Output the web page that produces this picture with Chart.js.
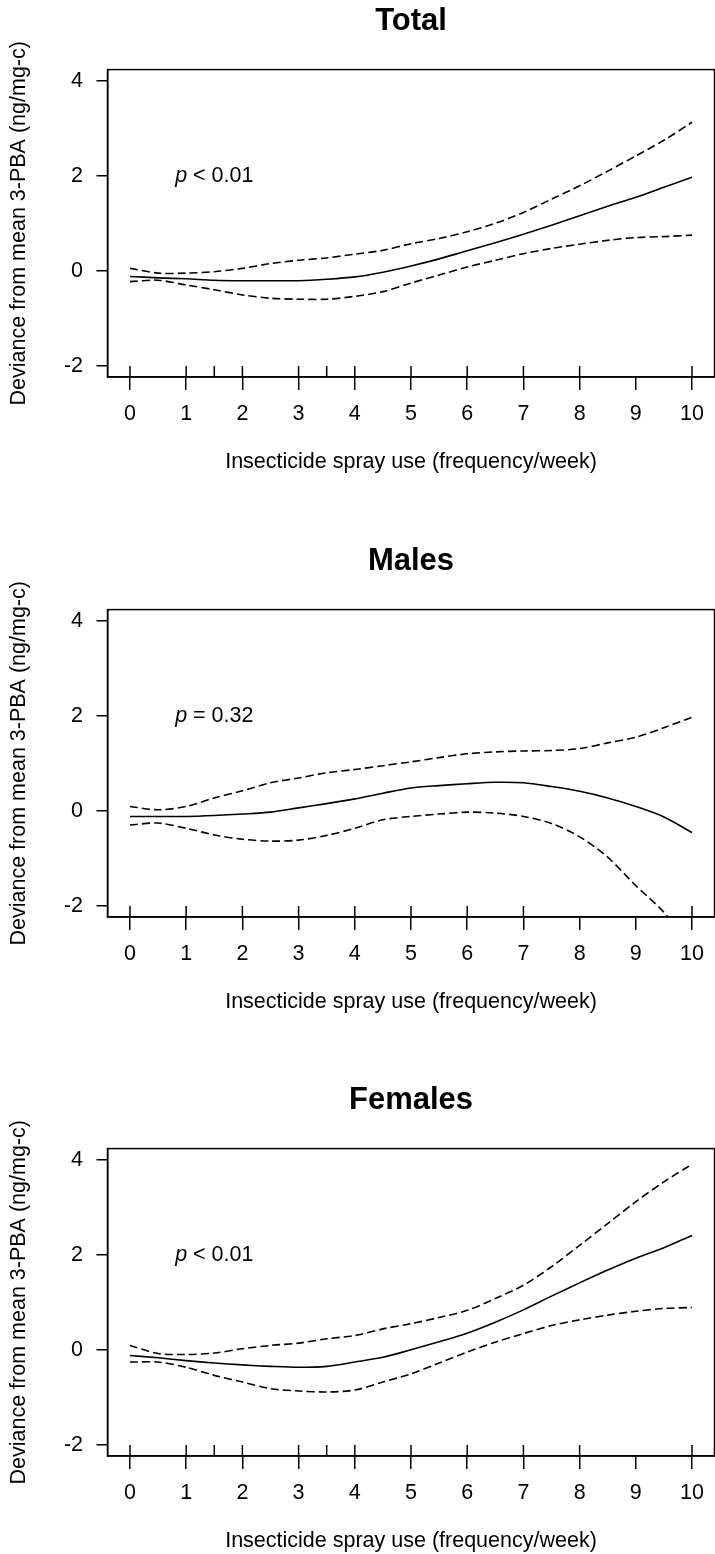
<!DOCTYPE html>
<html>
<head>
<meta charset="utf-8">
<script src="https://cdn.jsdelivr.net/npm/chart.js@4.4.1/dist/chart.umd.min.js"></script>
<style>
  body { margin: 0; background: #fff; width: 715px; height: 1554px; overflow: hidden; position: relative; }
  canvas { position: absolute; left: 0; }
</style>
</head>
<body>
<canvas id="total" width="715" height="540" style="top:0px"></canvas>
<canvas id="males" width="715" height="540" style="top:540px"></canvas>
<canvas id="females" width="715" height="540" style="top:1079px"></canvas>
<script>
// spray frequency (per week) at which the curves were read
var freq = [0, 0.5, 1, 1.5, 2, 2.5, 3, 3.5, 4, 4.5, 5, 5.5, 6, 6.5, 7, 7.5, 8, 8.5, 9, 9.5, 10];

var totalFit = [-0.12, -0.15, -0.17, -0.20, -0.21, -0.21, -0.21, -0.18, -0.13, -0.03, 0.10, 0.25, 0.42, 0.59, 0.77, 0.96, 1.16, 1.36, 1.55, 1.76, 1.97];
var totalUp  = [0.05, -0.05, -0.05, -0.02, 0.05, 0.15, 0.22, 0.27, 0.35, 0.43, 0.57, 0.68, 0.82, 1.00, 1.23, 1.51, 1.79, 2.10, 2.42, 2.75, 3.13];
var totalLo  = [-0.23, -0.20, -0.30, -0.40, -0.51, -0.58, -0.60, -0.60, -0.54, -0.44, -0.26, -0.09, 0.08, 0.22, 0.36, 0.47, 0.56, 0.64, 0.70, 0.72, 0.75];

var malesFit = [-0.12, -0.12, -0.12, -0.10, -0.07, -0.03, 0.06, 0.15, 0.25, 0.37, 0.48, 0.53, 0.57, 0.60, 0.59, 0.51, 0.41, 0.27, 0.09, -0.13, -0.46];
var malesUp  = [0.09, 0.02, 0.09, 0.27, 0.42, 0.59, 0.69, 0.80, 0.87, 0.95, 1.03, 1.12, 1.20, 1.24, 1.26, 1.27, 1.31, 1.43, 1.55, 1.75, 1.97];
var malesLo  = [-0.30, -0.26, -0.37, -0.51, -0.60, -0.64, -0.62, -0.52, -0.37, -0.19, -0.12, -0.07, -0.03, -0.05, -0.12, -0.27, -0.55, -0.98, -1.58, -2.14, -2.90];

var femalesFit = [-0.12, -0.17, -0.23, -0.28, -0.32, -0.35, -0.37, -0.35, -0.26, -0.16, 0.00, 0.17, 0.35, 0.58, 0.84, 1.13, 1.41, 1.68, 1.93, 2.15, 2.41];
var femalesUp  = [0.09, -0.08, -0.10, -0.07, 0.02, 0.09, 0.14, 0.23, 0.30, 0.44, 0.55, 0.68, 0.83, 1.08, 1.36, 1.75, 2.20, 2.66, 3.12, 3.54, 3.91];
var femalesLo  = [-0.26, -0.26, -0.37, -0.54, -0.68, -0.82, -0.87, -0.89, -0.85, -0.68, -0.51, -0.28, -0.05, 0.16, 0.34, 0.51, 0.63, 0.73, 0.81, 0.87, 0.89];

// observed spray frequencies (rug marks)
var totalRug   = [0, 1, 1.5, 2, 3, 3.5, 4, 5, 6, 7, 8, 10];
var malesRug   = [0, 1, 2, 3, 4, 5, 6, 7, 10];
var femalesRug = [0, 1, 1.5, 2, 3, 3.5, 4, 5, 6, 7, 8, 10];

var xTicks = [0, 1, 2, 3, 4, 5, 6, 7, 8, 9, 10];
var yTicks = [-2, 0, 2, 4];

var xTitle = "Insecticide spray use (frequency/week)";
var yTitle = "Deviance from mean 3-PBA (ng/mg-c)";

var FONT = '"Liberation Sans", Arial, sans-serif';
var txt = { family: FONT, size: 21.5 };

function pts(ys) {
  return freq.map(function (x, i) { return { x: x, y: ys[i] }; });
}

// full box round the plot region
var boxPlugin = {
  id: 'box',
  afterDraw: function (chart) {
    var a = chart.chartArea, ctx = chart.ctx;
    ctx.save();
    ctx.strokeStyle = '#000';
    ctx.lineWidth = 1.5;
    ctx.strokeRect(a.left, a.top, a.right - a.left, a.bottom - a.top);
    ctx.restore();
  }
};

var rugPlugin = {
  id: 'rug',
  afterDatasetsDraw: function (chart, args, opts) {
    var x = chart.scales.x, a = chart.chartArea, ctx = chart.ctx;
    ctx.save();
    ctx.strokeStyle = '#000';
    ctx.lineWidth = 1.5;
    (opts.values || []).forEach(function (v) {
      var px = x.getPixelForValue(v);
      ctx.beginPath();
      ctx.moveTo(px, a.bottom);
      ctx.lineTo(px, a.bottom - 11);
      ctx.stroke();
    });
    ctx.restore();
  }
};

// "p < 0.01" note, italic p
var pPlugin = {
  id: 'pnote',
  afterDraw: function (chart, args, opts) {
    var ctx = chart.ctx;
    var px = chart.scales.x.getPixelForValue(opts.x);
    var py = chart.scales.y.getPixelForValue(opts.y);
    ctx.save();
    ctx.fillStyle = '#000';
    ctx.textBaseline = 'middle';
    ctx.textAlign = 'left';
    ctx.font = 'italic 21.5px ' + FONT;
    var w1 = ctx.measureText('p').width;
    ctx.font = '21.5px ' + FONT;
    var rest = ' ' + opts.text;
    var w2 = ctx.measureText(rest).width;
    var start = px - (w1 + w2) / 2;
    ctx.font = 'italic 21.5px ' + FONT;
    ctx.fillText('p', start, py);
    ctx.font = '21.5px ' + FONT;
    ctx.fillText(rest, start + w1, py);
    ctx.restore();
  }
};

function makePanel(id, title, fit, up, lo, rug, note) {
  var solid = { borderColor: '#000', borderWidth: 1.6, pointRadius: 0, tension: 0.3, fill: false };
  var dash = { borderColor: '#000', borderWidth: 1.6, pointRadius: 0, tension: 0.3, fill: false, borderDash: [8, 4] };

  return new Chart(id, {
    type: 'line',
    data: {
      datasets: [
        Object.assign({ data: pts(fit) }, solid),
        Object.assign({ data: pts(up) }, dash),
        Object.assign({ data: pts(lo) }, dash)
      ]
    },
    options: {
      responsive: false,
      animation: false,
      devicePixelRatio: 1,
      layout: { padding: { left: 0, right: 0.5, top: 0, bottom: 0 } },
      plugins: {
        legend: { display: false },
        tooltip: { enabled: false },
        title: {
          display: true,
          text: title,
          fullSize: false,
          color: '#000',
          font: { family: FONT, size: 31, weight: 'bold' },
          padding: { top: 3, bottom: 29.4 }
        },
        rug: { values: rug },
        pnote: { text: note, x: 1.5, y: 2 }
      },
      scales: {
        x: {
          type: 'linear',
          min: -0.4,
          max: 10.4,
          afterBuildTicks: function (s) { s.ticks = xTicks.map(function (v) { return { value: v }; }); },
          afterFit: function (s) { s.height = 163; },
          grid: { display: true, drawOnChartArea: false, drawTicks: true, tickLength: 13, color: '#000', lineWidth: 1.5 },
          border: { display: true, color: '#000', width: 1.5 },
          ticks: { color: '#000', font: txt, padding: 11, maxRotation: 0, autoSkip: false },
          title: { display: true, text: xTitle, color: '#000', font: txt, padding: { top: 0, bottom: 65 } }
        },
        y: {
          type: 'linear',
          min: -2.24,
          max: 4.24,
          afterBuildTicks: function (s) { s.ticks = yTicks.map(function (v) { return { value: v }; }); },
          afterFit: function (s) { s.width = 107.5; },
          grid: { display: true, drawOnChartArea: false, drawTicks: true, tickLength: 11, color: '#000', lineWidth: 1.5 },
          border: { display: true, color: '#000', width: 1.5 },
          ticks: { color: '#000', font: txt, padding: 13.5 },
          title: { display: true, text: yTitle, color: '#000', font: txt, padding: { top: 6, bottom: 0 } }
        }
      }
    },
    plugins: [boxPlugin, rugPlugin, pPlugin]
  });
}

makePanel('total', 'Total', totalFit, totalUp, totalLo, totalRug, '< 0.01');
makePanel('males', 'Males', malesFit, malesUp, malesLo, malesRug, '= 0.32');
makePanel('females', 'Females', femalesFit, femalesUp, femalesLo, femalesRug, '< 0.01');
</script>
</body>
</html>
